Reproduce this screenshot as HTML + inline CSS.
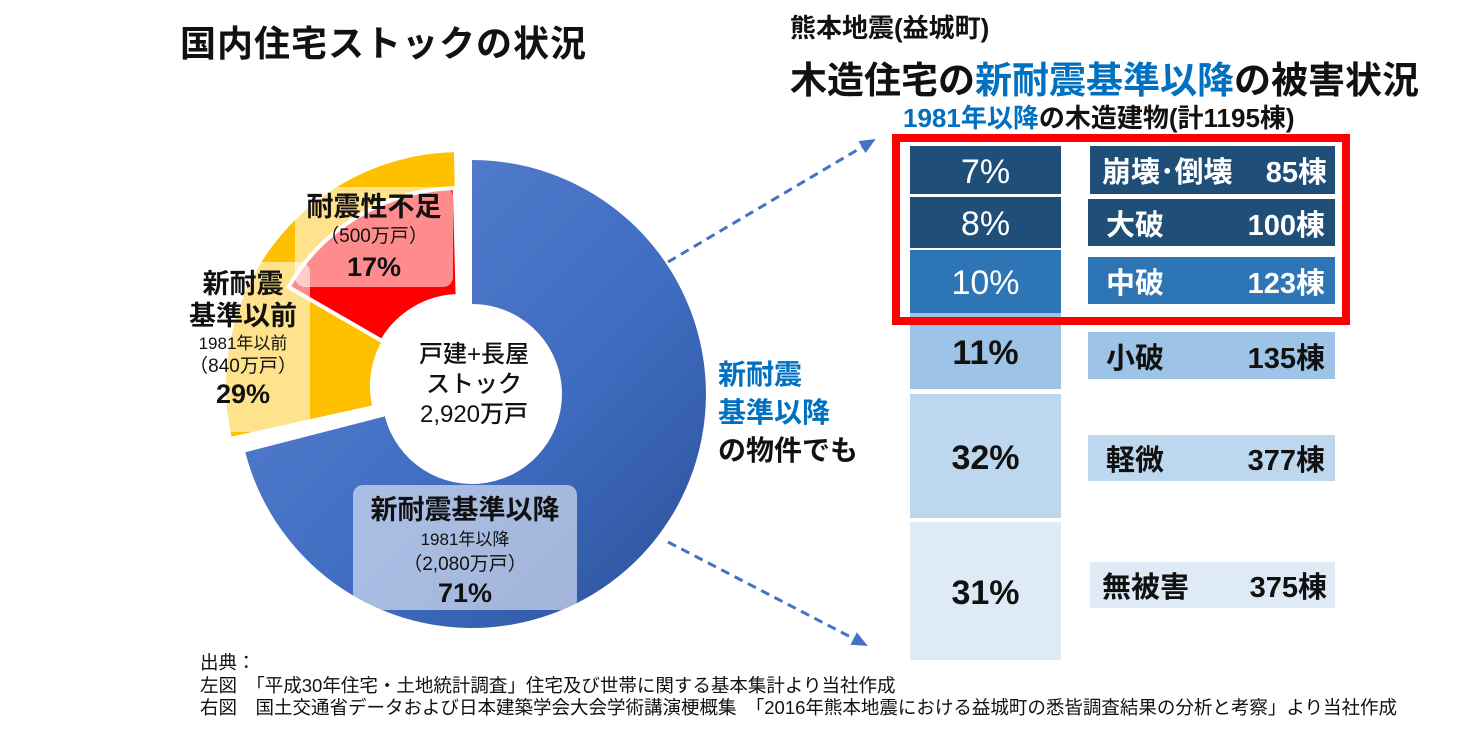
<!DOCTYPE html>
<html><head><meta charset="utf-8"><style>
body{margin:0;width:1461px;height:733px;background:#fff;position:relative;overflow:hidden;font-family:"Liberation Sans","Noto Sans CJK JP",sans-serif;color:#111}
.a{position:absolute;white-space:nowrap}
.b{font-weight:bold}
.bl{color:#0070c0}
.box{position:absolute;display:flex;align-items:center;justify-content:center;font-size:34px;font-weight:500;padding-top:4px;box-sizing:border-box}
.lab{position:absolute;display:flex;align-items:center;justify-content:space-between;font-size:29px;font-weight:bold;padding:0 10px 0 18px;box-sizing:border-box}
.c div{text-align:center}
.s{font-size:17px;font-weight:normal;line-height:23px}
</style></head><body>
<div class="a b" style="left:180px;top:15px;font-size:36px;letter-spacing:1px">国内住宅ストックの状況</div>
<div class="a b" style="left:790px;top:8px;font-size:26px">熊本地震(益城町)</div>
<div class="a b" style="left:790px;top:50px;font-size:37px">木造住宅の<span class="bl">新耐震基準以降</span>の被害状況</div>
<div class="a b" style="left:903px;top:98px;font-size:26px"><span class="bl">1981年以降</span>の木造建物(計1195棟)</div>

<svg class="a" style="left:0;top:0" width="1461" height="733">
<defs><linearGradient id="g" x1="0" y1="0" x2="1" y2="1"><stop offset="0" stop-color="#5b83d3"/><stop offset="0.6" stop-color="#3f6cc0"/><stop offset="1" stop-color="#2a4f96"/></linearGradient>
<marker id="m" markerUnits="userSpaceOnUse" markerWidth="16" markerHeight="14" refX="14" refY="7" orient="auto"><path d="M0,0 L16,7 L0,14 Z" fill="#4472c4"/></marker></defs>
<path d="M472,160 A234,234 0 1 1 245.3,452.2 L384.8,416.4 A90,90 0 1 0 472,304 Z" fill="url(#g)"/>
<path d="M231.5,436.6 A234 234 0 0 1 453.9,152.1 L457.6,296 A90 90 0 0 0 372.1,405.5 Z" fill="#ffc000"/>
<path d="M288.5,287 A198 198 0 0 1 454.8,188.1 L457.6,296 A90 90 0 0 0 382.1,341 Z" fill="#ff0000" stroke="#fff" stroke-width="4"/>
<rect x="295" y="187" width="158" height="100" rx="10" fill="#fff" opacity="0.55"/>
<rect x="180" y="262" width="130" height="170" rx="10" fill="#fff" opacity="0.55"/>
<rect x="353" y="485" width="224" height="125" rx="10" fill="#fff" opacity="0.55"/>
<line x1="668" y1="262" x2="874" y2="140" stroke="#4472c4" stroke-width="3" stroke-dasharray="9,6" marker-end="url(#m)"/>
<line x1="668" y1="542" x2="866" y2="645" stroke="#4472c4" stroke-width="3" stroke-dasharray="9,6" marker-end="url(#m)"/>
</svg>

<div class="a b c" style="left:295px;top:190px;width:158px;font-size:27px;line-height:34px"><div>耐震性不足</div><div class="s" style="font-size:19px;line-height:26px">（500万戸）</div><div>17%</div></div>
<div class="a b c" style="left:176px;top:268px;width:134px;font-size:27px;line-height:32px"><div>新耐震</div><div>基準以前</div><div class="s">1981年以前</div><div class="s" style="font-size:19px">（840万戸）</div><div>29%</div></div>
<div class="a c" style="left:384px;top:340px;width:180px;font-size:24px;line-height:30px;font-weight:500"><div>戸建+長屋</div><div>ストック</div><div>2,920万戸</div></div>
<div class="a b c" style="left:353px;top:494px;width:224px;font-size:27px;line-height:33px"><div>新耐震基準以降</div><div class="s" style="line-height:25px">1981年以降</div><div class="s" style="font-size:19px;line-height:25px">（2,080万戸）</div><div>71%</div></div>

<div class="a b" style="left:718px;top:356px;font-size:28px;line-height:38px"><span class="bl">新耐震<br>基準以降</span><br>の物件でも</div>

<div class="box" style="left:910px;top:146px;width:151px;height:48px;background:#1f4e79;color:#fff">7%</div>
<div class="box" style="left:910px;top:197px;width:151px;height:51px;background:#1f4e79;color:#fff">8%</div>
<div class="box" style="left:910px;top:250px;width:151px;height:63px;background:#2e75b6;color:#fff">10%</div>
<div class="box" style="left:910px;top:313px;width:151px;height:76px;background:#9dc3e6;font-weight:bold">11%</div>
<div class="box" style="left:910px;top:394px;width:151px;height:124px;background:#bdd7ee;font-weight:bold">32%</div>
<div class="box" style="left:910px;top:522px;width:151px;height:138px;background:#deebf7;font-weight:bold">31%</div>

<div class="lab" style="left:1090px;top:146px;width:245px;height:48px;background:#1f4e79;color:#fff;padding:0 8px 0 12px"><span>崩壊･倒壊</span><span>85棟</span></div>
<div class="lab" style="left:1088px;top:199px;width:247px;height:47px;background:#1f4e79;color:#fff"><span>大破</span><span>100棟</span></div>
<div class="lab" style="left:1088px;top:257px;width:247px;height:47px;background:#2e75b6;color:#fff"><span>中破</span><span>123棟</span></div>
<div class="lab" style="left:1088px;top:332px;width:247px;height:47px;background:#9dc3e6"><span>小破</span><span>135棟</span></div>
<div class="lab" style="left:1088px;top:435px;width:247px;height:46px;background:#bdd7ee"><span>軽微</span><span>377棟</span></div>
<div class="lab" style="left:1090px;top:562px;width:245px;height:46px;background:#deebf7;padding:0 8px 0 12px"><span>無被害</span><span>375棟</span></div>

<div class="a" style="left:892px;top:134px;width:442px;height:175px;border:8px solid #ff0000"></div>

<div class="a" style="left:200px;top:652px;font-size:18.5px;line-height:22.5px">出典：<br>左図　「平成30年住宅・土地統計調査」住宅及び世帯に関する基本集計より当社作成<br>右図　国土交通省データおよび日本建築学会大会学術講演梗概集　「2016年熊本地震における益城町の悉皆調査結果の分析と考察」より当社作成</div>
</body></html>
